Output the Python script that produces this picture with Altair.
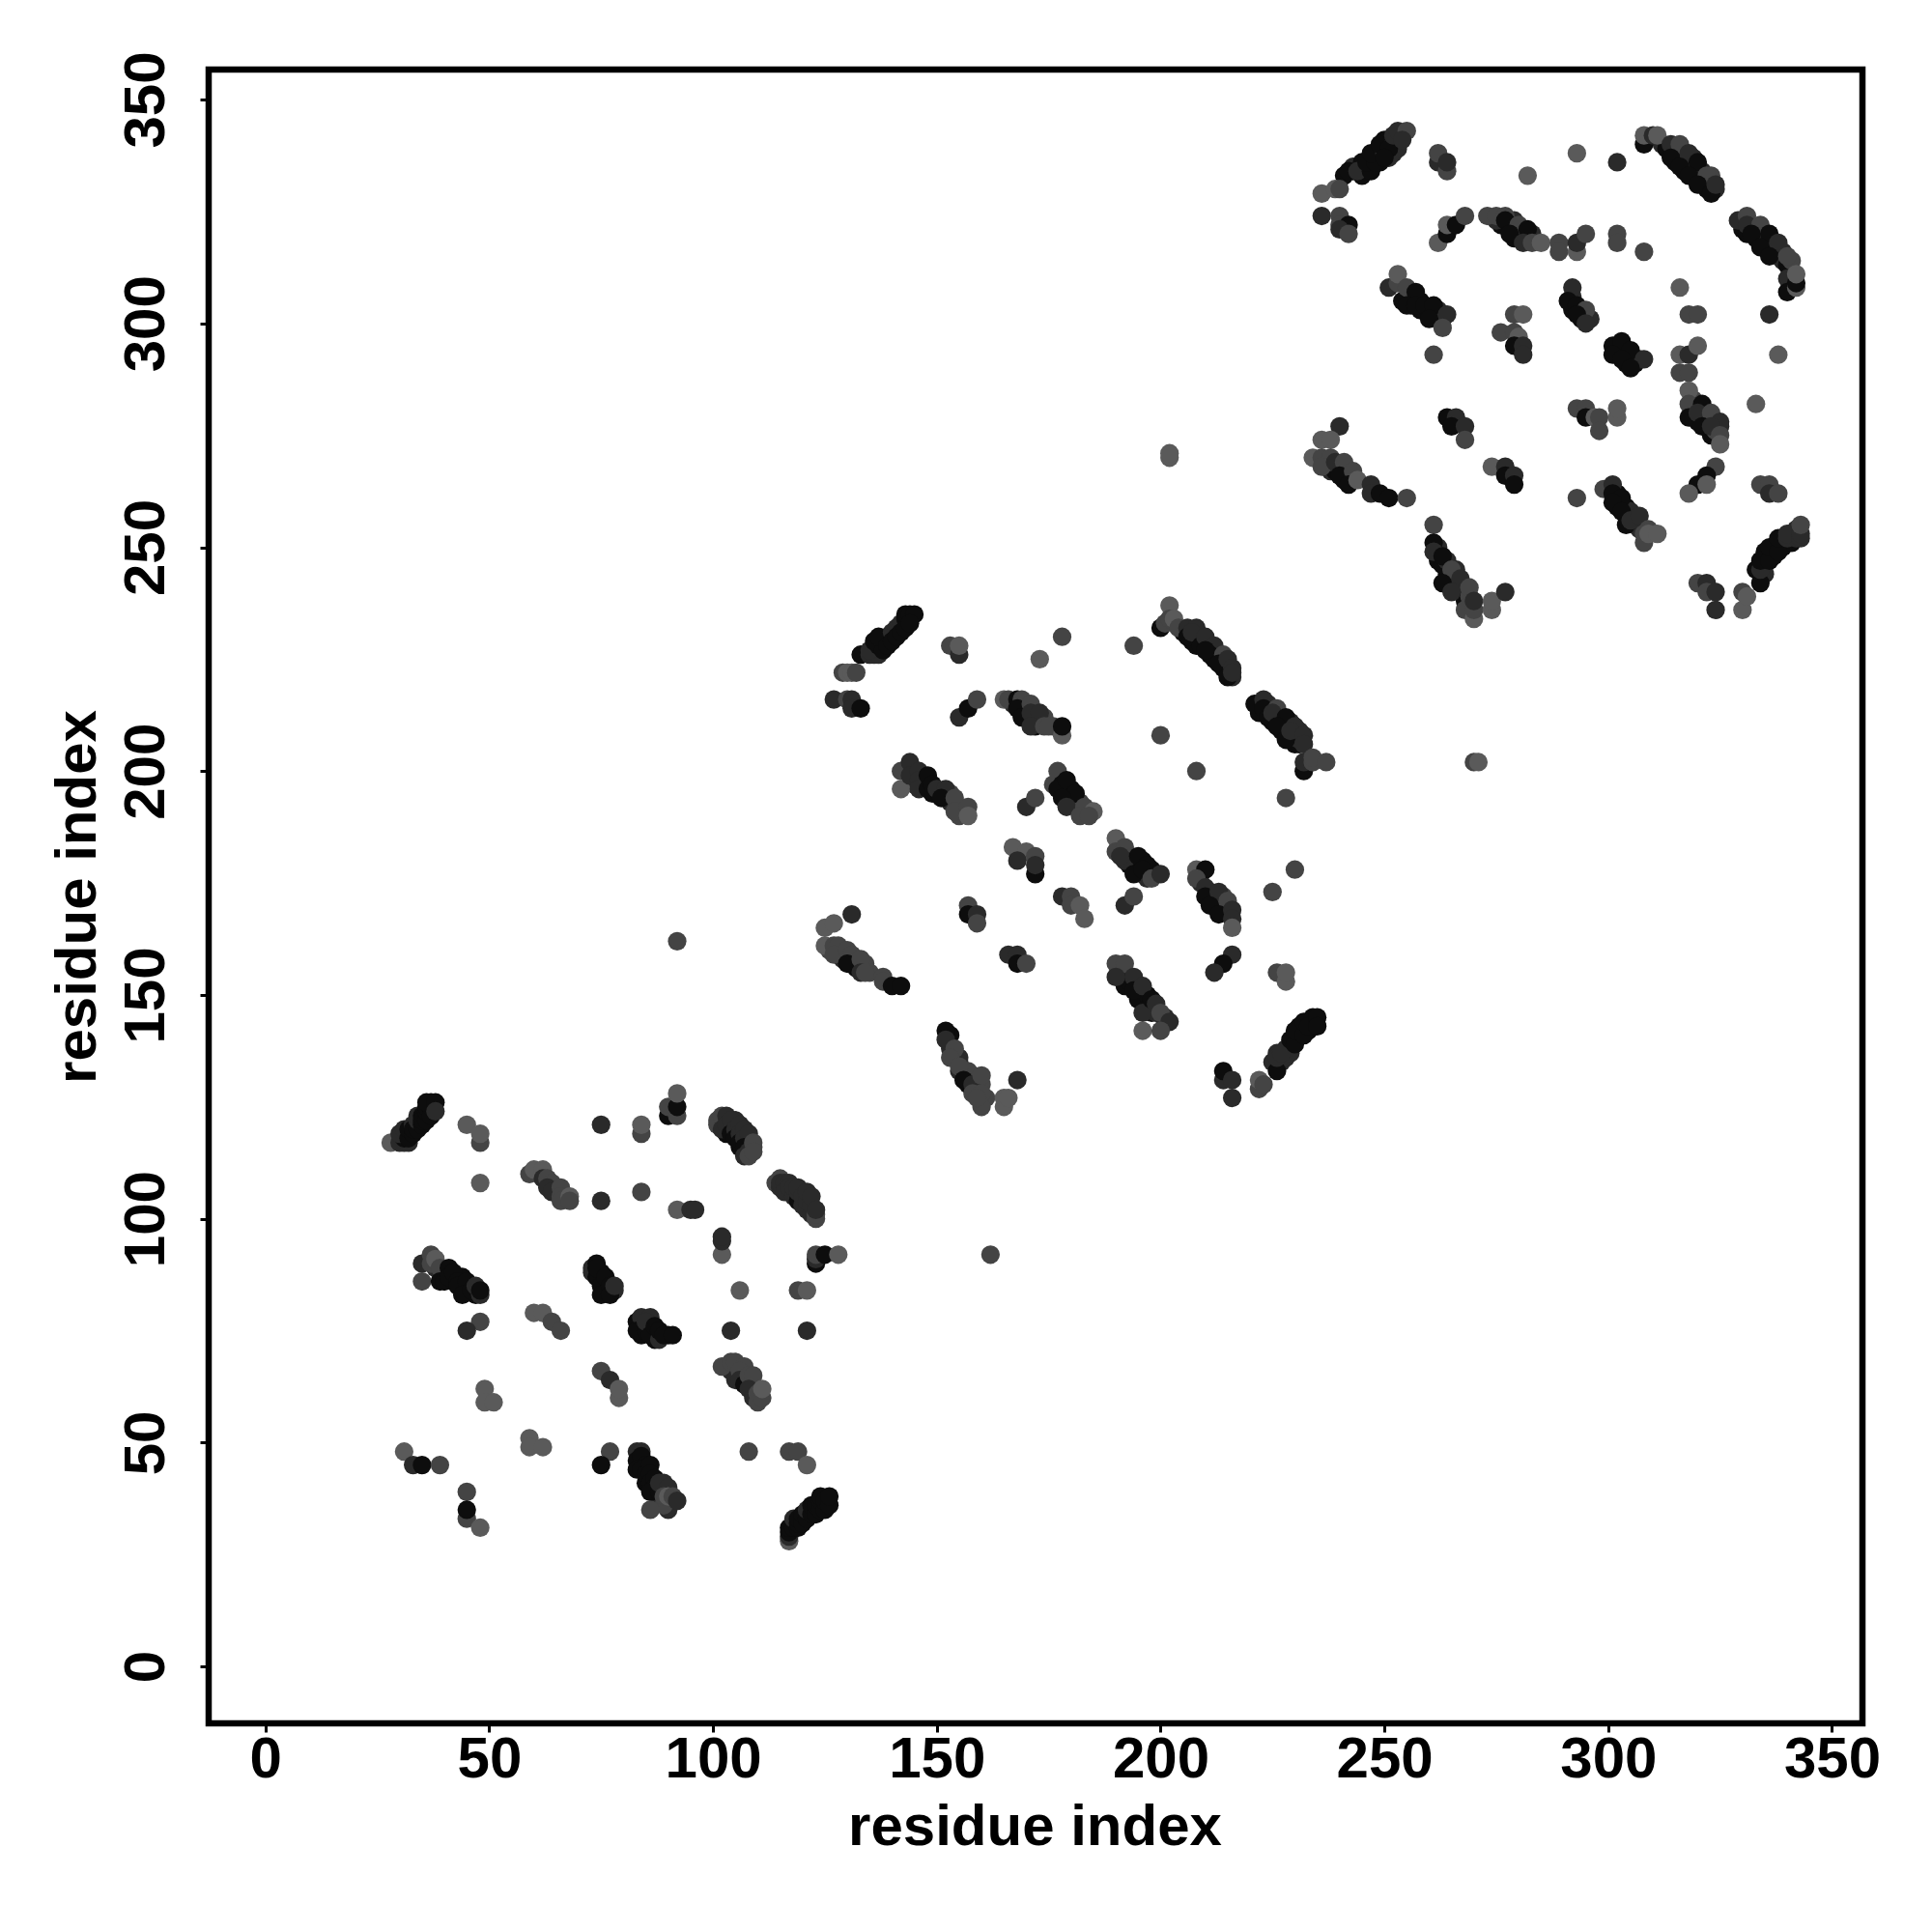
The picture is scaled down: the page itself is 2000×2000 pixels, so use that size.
import altair as alt
import pandas as pd

# (residue x, residue y, shade) shade: 0 lightest .. 3 darkest
band_fill_1 = [
 (103,119,3),(104,120,2),(105,122,2),(108,116,3),(106,116,3),(109,116,1),(108,117,2),
 (38,89,2),(40,88,3),(42,86,3),(44,85,3),(44,87,3),(46,85,3),(47,83,3),
 (73,89,2),(75,87,3),(75,88,3),(76,85,3),(76,84,3),(78,84,2),
 (84,76,3),(84,74,3),(86,76,3),(87,74,3),(87,73,3),(90,74,3),(85,76,3),
 (103,67,1),(105,66,2),(106,65,2),(107,65,1),(107,64,2),(108,63,2),(109,62,2),(109,61,2),(110,60,1),
 (84,45,3),(85,41,3),(86,40,3),(88,37,2),(89,40,2),
]
band_fill_2 = [
 (205,231,3),(207,229,3),(208,230,3),(209,230,2),(208,228,3),(210,228,3),(211,228,2),(212,226,3),(212,225,3),(213,226,2),(214,223,3),(215,223,3),(214,224,2),(216,221,2),
 (222,213,3),(222,215,2),(224,215,2),(225,211,3),(227,212,2),(227,209,3),(229,211,2),(229,207,3),(231,209,2),(230,206,3),(231,206,3),(231,207,2),
 (147,197,3),(145,197,2),(149,195,3),(151,195,3),(153,193,2),(153,195,1),(155,192,1),(155,190,1),
 (167,215,2),(170,214,2),(170,212,3),(172,212,2),(172,210,3),(173,211,2),(174,212,1),(176,210,1),
 (193,179,3),(193,181,2),(194,180,3),(196,180,3),(196,177,3),(197,176,2),(198,178,3),
 (209,175,2),(211,173,3),(212,172,3),(212,170,3),(214,170,2),(214,172,1),(215,169,2),
 (191,156,2),(192,154,2),(192,152,3),(193,153,3),(195,149,3),(195,152,3),(197,150,3),(197,147,3),(198,146,3),(199,146,2),(201,145,2),(201,144,2),
 (225,135,2),(226,137,2),(227,135,2),(228,136,2),(229,137,2),(231,141,3),(231,143,3),(233,142,3),(234,145,3),(234,143,3),(234,144,3),
 (153,141,3),(153,138,2),(155,136,2),(155,135,2),(156,133,3),(157,131,3),(157,130,3),(159,130,2),(159,129,2),(160,130,1),(158,132,2),(159,128,1),(160,127,1),(161,127,1),
 (129,158,2),(131,157,3),(132,157,3),(132,156,3),(134,157,1),(135,155,1),(126,160,1),
 (178,195,3),(180,196,3),(180,193,3),(181,192,2),(182,193,1),
]
band_fill_3 = [
 (312,340,2),(313,339,3),(315,338,3),(315,336,3),(317,336,3),(317,338,2),(317,334,3),(319,334,3),(319,336,2),(321,334,2),(321,332,3),(322,331,3),(323,331,2),(323,333,1),(322,330,3),(319,337,2),
 (330,321,3),(331,320,3),(333,321,2),(333,319,3),(335,319,2),(335,317,3),(337,318,2),(337,316,3),(339,316,2),(338,315,3),(339,314,2),(340,313,3),(341,314,1),
 (241,333,3),(243,334,3),(243,335,2),(245,335,2),(245,336,3),(245,333,3),(246,334,3),(248,338,3),(249,338,3),(249,336,3),(251,341,2),(252,338,2),(250,341,3),(251,337,2),(253,341,1),(253,339,2),(247,336,3),
 (333,245,3),(335,246,3),(335,249,3),(337,248,3),(337,250,3),(339,250,3),(339,252,3),(341,251,3),(341,253,3),(342,252,2),(342,254,2),(335,244,2),
 (276,322,3),(279,321,3),(279,323,2),(281,320,3),(280,319,3),(283,320,2),(279,319,3),(275,323,2),
 (237,268,2),(238,267,2),(239,267,3),(241,266,3),(241,265,3),(243,265,2),(238,269,2),
 (262,250,2),(262,247,3),(263,246,3),(264,244,3),(266,245,2),(266,242,2),(267,241,3),(268,240,2),(268,238,3),(269,239,1),(269,237,1),
 (302,262,3),(302,259,3),(304,259,3),(304,257,3),(305,258,2),(306,255,2),(307,254,2),(308,253,1),
 (256,306,2),(254,305,3),(256,304,3),(258,305,3),(258,303,3),(260,303,3),(262,301,2),(262,303,2),(263,301,2),
 (292,304,3),(292,306,2),(294,303,3),(294,301,3),(296,301,2),(292,303,3),
 (302,294,3),(304,293,3),(304,291,3),(306,291,3),(307,292,2),
 (319,281,3),(320,278,3),(322,279,2),(322,277,3),(323,275,3),(324,278,2),(324,276,1),(325,277,2),(319,283,1),
]

domain_1 = [
 (28,117,0),(31,117,2),(30,117,2),(32,117,2),(31,118,3),(31,119,2),(30,119,2),(31,120,2),(32,118,3),(32,120,3),(33,119,3),(33,121,2),(33,120,3),
 (34,120,3),(34,122,2),(34,123,2),(35,121,3),(35,123,3),(35,122,3),(36,122,3),(36,124,3),(36,125,3),(37,123,3),(37,125,3),(37,126,3),(36,126,3),(38,126,3),(38,124,2),
 (45,121,0),(48,117,1),(48,119,0),(48,108,0),
 (59,110,1),(60,111,0),(62,111,0),(62,109,2),(63,109,1),(64,108,1),(63,107,2),(64,106,2),(66,107,1),(66,105,1),(66,104,1),(68,105,0),(68,104,1),
 (75,121,2),(75,104,2),(84,119,1),(84,121,0),(84,106,1),
 (90,123,3),(90,125,1),(92,123,1),(92,125,3),(92,128,0),
 (92,102,0),(95,102,2),(96,102,2),
 (101,121,1),(101,122,1),(102,123,1),(103,123,2),(102,120,2),(103,121,2),(104,122,2),(104,119,3),(105,120,2),(106,121,2),(105,118,3),(106,119,2),(107,120,2),(106,117,3),
 (107,118,2),(108,119,2),(107,116,3),(108,115,2),(109,117,1),(107,114,2),(108,114,1),(109,115,1),
 (114,108,1),(115,109,1),(115,107,2),(115,108,2),(116,108,2),(116,106,2),(117,108,2),(117,107,2),(118,105,2),(118,107,2),(119,104,3),(119,106,2),(119,107,2),(120,103,2),(120,105,2),(121,102,2),
 (121,104,2),(121,106,2),(122,101,2),(122,103,2),(122,105,2),(123,100,1),(123,101,1),(123,102,2),
 (102,92,0),(102,95,2),(102,96,2),
 (123,90,3),(123,91,2),(123,92,1),(125,92,3),(128,92,0),
 (106,84,0),(119,84,1),(121,84,0),(104,75,2),(121,75,2),
 (35,90,2),(35,86,1),(37,92,1),(37,90,1),(38,91,0),(39,89,1),(39,86,3),(40,86,3),(41,89,3),(41,87,3),(42,88,3),(43,86,3),(43,85,3),(45,86,3),(44,83,3),(46,84,3),(47,85,2),(48,83,2),(48,84,3),
 (48,77,1),(45,75,2),
 (74,90,3),(73,88,2),(74,87,3),(74,89,3),(75,85,3),(75,83,3),(76,87,3),(77,85,3),(77,83,3),(78,85,2),
 (83,77,3),(84,78,2),(86,78,2),(83,75,3),(85,75,3),(85,77,2),(86,74,3),(87,76,3),(88,73,2),(88,75,3),(89,74,3),(91,74,3),
 (60,79,0),(62,79,0),(64,77,1),(66,75,1),
 (104,66,2),(102,67,1),(104,68,1),(105,68,1),(107,67,1),(105,64,2),(106,66,1),(106,64,2),(107,63,3),(108,65,1),(109,65,1),(108,62,2),(109,60,2),(110,59,1),(110,61,1),(111,60,1),(111,62,0),
 (75,66,1),(77,64,2),(79,60,0),(79,62,0),
 (49,62,0),(49,59,0),(51,59,0),(59,51,0),(59,49,0),(62,49,0),
 (31,48,0),(33,45,2),(35,45,3),(39,45,1),
 (45,39,1),(45,33,1),(45,35,3),(48,31,0),
 (77,48,1),(75,45,3),
 (83,48,2),(84,48,2),(83,46,3),(84,47,3),(83,44,3),(85,45,3),(84,44,3),(85,43,3),(86,45,3),(86,43,3),(86,41,3),(87,42,3),(87,40,3),(86,39,3),(88,39,3),(89,41,2),(88,41,2),(90,40,2),(90,35,2),(89,36,1),(89,38,1),(90,38,0),(91,38,1),(92,37,2),(86,35,1),
 (108,48,1),(117,48,1),(119,48,1),(121,45,0),
 (117,28,0),(117,29,2),(117,30,3),(117,31,3),(118,31,3),(118,33,2),(119,31,3),(119,32,3),(119,33,3),(120,32,3),(120,34,3),(121,33,3),(121,35,2),(122,34,3),(122,36,3),(123,34,3),(123,36,3),(124,35,3),(124,37,3),(124,38,3),(125,35,3),(125,37,3),(126,36,3),(126,38,3),
]

domain_2 = [
 (92,162,1),(162,92,1),
 (129,222,1),(130,222,0),(131,222,0),(132,222,1),(133,226,3),(135,226,2),(136,226,2),(137,226,2),(135,227,2),(137,228,3),(136,229,3),(138,229,2),(138,227,3),(139,230,2),(137,230,3),(139,228,3),(140,231,2),(140,229,3),(141,232,2),(141,230,3),(142,233,2),(142,231,3),(143,234,3),(143,232,3),(143,235,3),(144,235,3),(145,235,3),(144,233,3),
 (153,228,1),(155,226,2),(155,228,0),(178,230,1),(173,225,0),(194,228,1),
 (127,216,2),(130,216,1),(131,216,2),(131,214,2),(133,214,3),
 (155,212,2),(157,214,3),(159,216,1),
 (165,216,0),(166,216,1),(168,216,3),(169,216,1),(168,214,3),(171,215,1),(169,212,3),(171,213,2),(173,213,2),(171,210,2),(174,210,1),(175,210,1),(178,208,0),(178,210,3),
 (200,208,1),(208,200,1),(228,194,1),
 (200,232,3),(202,237,0),(201,233,1),(202,234,1),(203,234,0),(204,232,1),(206,232,2),(208,232,2),(206,230,3),(207,231,2),(209,228,3),(210,230,2),(212,228,2),(211,226,3),(210,227,3),(214,226,1),(213,224,3),(215,225,2),(216,223,2),(215,221,3),(216,222,2),
 (221,215,3),(223,216,2),(223,214,3),(226,214,1),(224,212,3),(225,213,2),(228,212,3),(226,210,3),(230,210,2),(228,207,3),(229,209,2),(232,208,2),(232,206,2),(232,200,3),(232,202,2),(234,202,1),(234,203,1),(237,202,1),
 (142,200,1),(144,202,2),(142,196,0),(144,199,2),(146,200,2),(146,198,2),(146,196,2),(148,199,3),(148,196,3),(149,197,3),(150,196,2),(152,196,2),(151,194,3),(154,194,1),(154,191,1),(157,192,1),(157,190,0),
 (170,192,2),(172,194,1),(176,197,1),(177,200,1),(178,197,3),(177,196,3),(179,198,3),(181,195,3),(178,194,3),(179,192,2),(183,192,1),(182,190,1),(185,191,0),(184,190,1),
 (167,183,0),(170,182,0),(168,180,2),(172,181,1),(172,177,3),(172,179,2),
 (190,185,0),(190,182,1),(192,183,1),(192,180,2),(191,181,2),(195,181,3),(194,177,3),(197,179,3),(196,178,3),(198,176,1),(200,177,2),
 (192,170,2),(194,172,1),
 (208,178,0),(210,178,3),(208,176,1),(210,174,2),(210,172,3),(213,173,2),(211,170,3),(215,171,1),(213,168,3),(216,169,2),(216,167,2),(216,165,0),
 (225,173,1),(230,178,1),
 (178,172,2),(180,172,1),(180,170,1),(182,170,0),(183,167,0),
 (157,170,1),(157,168,3),(159,168,2),(159,166,1),
 (125,165,0),(127,166,0),(131,168,2),(125,161,0),(127,161,1),(128,161,1),(127,159,1),(130,160,1),(131,159,1),(130,157,3),(133,158,1),(133,155,2),(134,155,1),(138,154,1),(138,153,1),(140,152,3),(142,152,3),
 (166,159,2),(168,159,2),(168,157,3),(170,157,1),
 (190,157,1),(192,157,1),(190,154,2),(194,154,2),(194,151,3),(196,152,2),(196,146,2),(198,149,3),(199,148,2),(200,146,1),(202,144,2),(196,142,0),(200,142,1),
 (216,159,2),(214,157,3),(212,155,2),
 (226,155,1),(228,153,0),(228,155,0),
 (222,129,1),(222,131,0),(223,130,1),(226,133,3),(226,136,2),(228,138,2),(227,137,2),(229,140,3),(230,139,3),(230,142,3),(232,141,3),(232,144,3),(233,143,3),(235,145,3),(235,143,3),
 (214,131,2),(214,133,3),(216,131,2),(216,127,2),
 (152,142,3),(152,140,2),(154,138,1),(153,136,1),(155,133,2),(157,133,1),(155,134,1),(156,131,3),(158,130,2),(160,132,1),(158,128,1),(160,128,1),(160,125,1),(159,127,1),(165,125,0),(165,127,0),(166,127,0),(168,131,2),
]

domain_3 = [
 (202,270,0),(202,271,0),(270,202,1),(271,202,0),
 (236,329,0),(239,330,0),(240,330,1),(242,334,3),(244,334,2),(247,334,3),(246,336,3),(248,336,3),(247,338,3),(250,338,2),(249,340,3),(252,340,2),(251,339,3),(250,337,3),(252,342,2),(253,343,2),(255,343,1),(254,341,2),
 (262,336,2),(262,338,1),(264,334,1),(264,336,2),
 (282,333,0),(293,338,0),(302,336,2),
 (308,340,3),(308,342,0),(310,342,2),(311,342,0),(314,340,2),(316,340,1),(314,337,3),(318,338,2),(316,335,3),(320,336,3),(318,333,3),(322,333,1),(320,331,3),(324,330,2),(323,329,3),(324,331,2),
 (329,323,2),(331,324,1),(331,322,2),(334,322,1),(332,320,3),(336,320,3),(334,317,3),(338,318,2),(336,315,3),(340,315,1),(340,310,2),(340,307,3),(342,308,0),(342,309,3),(342,311,0),
 (236,324,2),(240,324,1),(240,322,1),(242,322,3),(240,321,2),(242,320,1),
 (262,318,0),(264,320,3),(264,322,0),(266,322,3),(268,324,1),
 (273,324,1),(275,324,1),(277,324,1),(277,323,3),(280,322,1),(278,320,3),(282,321,3),(281,318,2),(283,318,1),(285,318,0),
 (289,318,1),(289,316,1),(293,316,0),(293,318,2),(295,320,1),
 (302,320,1),(302,318,1),(308,316,1),
 (316,308,0),(318,302,1),(320,302,1),(336,302,2),(338,293,0),
 (316,293,0),(318,293,2),(320,295,0),(316,289,1),(318,289,1),
 (318,285,0),(318,282,1),(321,282,3),(318,279,3),(320,280,2),(323,280,1),(325,278,2),(321,277,3),(323,277,2),(325,275,1),(325,273,0),
 (333,282,0),
 (251,308,2),(253,309,1),(253,311,0),(255,308,1),(257,307,3),(255,304,3),(257,304,3),(259,304,3),(261,304,3),(260,301,3),(264,302,2),(263,299,1),(261,293,1),
 (279,302,1),(281,302,0),(276,298,1),(279,298,1),(280,297,0),(279,295,3),(281,295,2),(281,293,2),
 (292,308,2),(291,305,3),(293,304,3),(295,303,1),(293,302,3),(295,300,2),
 (301,295,3),(303,296,3),(301,293,3),(305,294,3),(303,292,3),(308,292,2),(305,290,3),
 (293,281,1),(295,281,1),(295,279,3),(297,279,0),(298,279,1),(302,279,0),(302,281,0),(298,276,1),
 (264,279,3),(266,279,2),(265,277,3),(268,277,2),(268,274,1),
 (240,277,2),(236,274,0),(238,274,0),
 (234,270,0),(236,270,1),(238,270,1),(236,268,1),(239,269,2),(241,269,1),(240,266,3),(243,267,1),(242,264,3),(244,265,0),(247,264,2),(247,262,2),(249,262,3),(251,261,3),(255,261,1),
 (274,268,0),(277,268,2),(277,266,3),(279,266,2),(279,264,3),
 (293,261,1),
 (324,268,1),(322,266,3),(320,264,3),(322,264,0),(318,262,0),
 (334,264,1),(336,264,1),(336,262,2),(338,262,1),
 (299,263,1),(301,264,2),(301,262,3),(303,261,3),(301,260,3),(303,258,3),(304,255,3),(305,256,2),(307,257,2),(309,254,1),(308,251,1),(309,253,0),(311,253,0),
 (261,255,1),(261,251,3),(261,249,2),(264,247,2),(263,248,3),(265,245,1),(263,242,3),(267,243,2),(265,240,2),(269,241,1),(268,236,1),(270,234,0),(270,236,1),(270,238,2),(274,236,0),(274,238,0),(277,240,2),
 (320,242,1),(322,242,2),(322,240,1),(324,240,2),(324,236,2),
 (330,236,0),(330,240,1),(331,239,0),(334,242,3),(334,245,2),(334,247,3),(336,247,3),(336,250,3),(338,249,3),(338,252,3),(340,252,2),(340,253,2),(343,252,2),(343,253,2),(343,255,1),
]

shades = ["#5a5a5a", "#444444", "#2a2a2a", "#0d0d0d"]
tick_values = [0, 50, 100, 150, 200, 250, 300, 350]
axis_title = "residue index"

rows = band_fill_1 + band_fill_2 + band_fill_3 + domain_1 + domain_2 + domain_3
data = pd.DataFrame(
    [{"x": a, "y": b, "c": shades[s]} for a, b, s in rows]
)

font = "Liberation Sans"

chart = (
    alt.Chart(data)
    .mark_circle(size=370, opacity=1)
    .encode(
        x=alt.X(
            "x:Q",
            scale=alt.Scale(domain=[-12.67, 356.8], nice=False, zero=False),
            axis=alt.Axis(
                title=axis_title, values=tick_values, domain=False, grid=False,
                tickSize=9, tickWidth=3, tickColor="black",
                labelFont=font, labelFontWeight="bold", labelFontSize=60, labelColor="black",
                labelBaseline="alphabetic", labelPadding=46, labelOverlap=False, labelFlush=False, labelBound=False,
                titleFont=font, titleFontWeight="bold", titleFontSize=60, titleColor="black",
                titleBaseline="alphabetic", titleX=855, titleY=125,
            ),
        ),
        y=alt.Y(
            "y:Q",
            scale=alt.Scale(domain=[-12.7, 356.7], nice=False, zero=False),
            axis=alt.Axis(
                title=axis_title, values=tick_values, domain=False, grid=False,
                tickSize=9, tickWidth=3, tickColor="black",
                labelFont=font, labelFontWeight="bold", labelFontSize=60, labelColor="black",
                labelAngle=270, labelAlign="center", labelBaseline="alphabetic", labelPadding=38,
                labelOverlap=False, labelFlush=False, labelBound=False,
                titleFont=font, titleFontWeight="bold", titleFontSize=60, titleColor="black",
                titleAngle=270, titleAlign="center", titleBaseline="alphabetic", titleX=-118, titleY=856,
            ),
        ),
        color=alt.Color("c:N", scale=None, legend=None),
    )
    .properties(
        width=1712, height=1712,
        autosize=alt.AutoSizeParams(type="none"),
        padding={"left": 208, "top": 64, "right": 50, "bottom": 180},
    )
    .configure_view(stroke="black", strokeWidth=6.5)
)

chart.save("out.html", embed_options={"renderer": "svg", "actions": False})
